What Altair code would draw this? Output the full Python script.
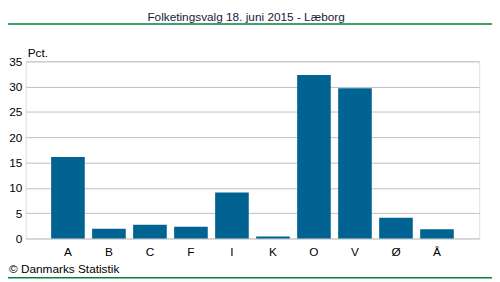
import altair as alt
import pandas as pd

parties = ["A", "B", "C", "F", "I", "K", "O", "V", "Ø", "Å"]
values = [16.1, 1.9, 2.7, 2.3, 9.1, 0.4, 32.3, 29.7, 4.1, 1.8]
y_ticks = [0, 5, 10, 15, 20, 25, 30, 35]
title_text = "Folketingsvalg 18. juni 2015 - Læborg"
unit_text = "Pct."
source_text = "© Danmarks Statistik"

df = pd.DataFrame({"party": parties, "value": values})
FONT = "Liberation Sans"

bars = alt.Chart(df).mark_bar(color="#006391").encode(
    x=alt.X("party:N", sort=parties,
            scale=alt.Scale(paddingInner=0.18, paddingOuter=0.62),
            axis=alt.Axis(title=None, labelAngle=0, domain=False, ticks=False,
                          labelPadding=8, labelFont=FONT, labelFontSize=12,
                          labelColor="#000000")),
    y=alt.Y("value:Q", scale=alt.Scale(domain=[0, 35], nice=False),
            axis=alt.Axis(title=None, values=y_ticks, domain=False, ticks=False,
                          gridColor="#c0c0c0", gridWidth=1, labelPadding=4,
                          labelFont=FONT, labelFontSize=12, labelColor="#000000")),
)

deco = pd.DataFrame({"t": [title_text]})
title = alt.Chart(deco).mark_text(font=FONT, fontSize=12, color="#1a1a3a", align="center",
                                  baseline="alphabetic").encode(
    text="t:N", x=alt.value(224), y=alt.value(-41))
unit = alt.Chart(pd.DataFrame({"t": [unit_text]})).mark_text(
    font=FONT, fontSize=12, color="#000000", align="left", baseline="alphabetic").encode(
    text="t:N", x=alt.value(2), y=alt.value(-4))
src = alt.Chart(pd.DataFrame({"t": [source_text]})).mark_text(
    font=FONT, fontSize=12, color="#000000", align="left", baseline="alphabetic").encode(
    text="t:N", x=alt.value(-17), y=alt.value(215))
top_line = alt.Chart(deco).mark_rule(color="#00843d", strokeWidth=1.5).encode(
    x=alt.value(-30), x2=alt.value(480), y=alt.value(-38))
bot_line = alt.Chart(deco).mark_rule(color="#00843d", strokeWidth=1.5).encode(
    x=alt.value(-30), x2=alt.value(480), y=alt.value(220))

chart = alt.layer(bars, title, unit, src, top_line, bot_line).properties(
    width=461, height=180,
    autosize=alt.AutoSizeParams(type="none"),
    padding={"left": 18, "top": 52, "right": 13, "bottom": 42},
).configure_view(stroke=None).configure(background="white")

chart.save("out.html", embed_options={"renderer": "svg", "actions": False})
